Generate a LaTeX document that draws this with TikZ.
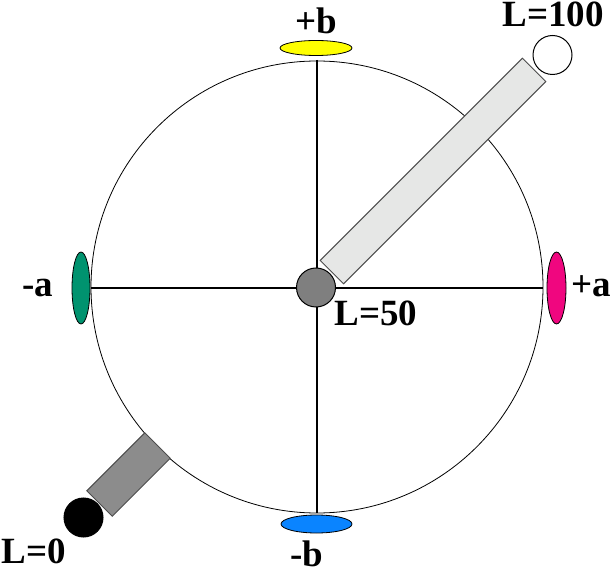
\documentclass[tikz,border=0pt]{standalone}
\usepackage{fontspec}
\setmainfont{Liberation Serif}
\usetikzlibrary{shapes.geometric}
\definecolor{cyel}{HTML}{FFFF00}
\definecolor{cblue}{HTML}{0A84FF}
\definecolor{cgreen}{HTML}{00936F}
\definecolor{cmag}{HTML}{F0067F}
\definecolor{lightbar}{HTML}{E6E7E6}
\definecolor{darkbar}{HTML}{8C8C8C}
\definecolor{midgray}{HTML}{7F7F7F}
\tikzset{
  lbl/.style={font=\fontsize{37}{40}\selectfont\bfseries, inner sep=0pt, anchor=base},
  pole/.style={ellipse, draw=black, line width=0.8pt, inner sep=0pt},
  axis/.style={line width=2pt, black},
  bar/.style={rectangle, draw=black!70, line width=1pt, inner sep=0pt, rotate=45},
  ball/.style={circle, draw=black, line width=1pt, inner sep=0pt, minimum size=39pt}
}
\begin{document}
\begin{tikzpicture}[x=1pt,y=-1pt]
\useasboundingbox (0,0) rectangle (613,569);
% sphere outline
\node[circle, draw=black, line width=0.8pt, minimum size=452pt, inner sep=0pt] (sph) at (317,287) {};
% axes
\coordinate (top) at (317,60);
\coordinate (bot) at (317,513);
\coordinate (lft) at (91,288);
\coordinate (rgt) at (543,288);
\draw[axis] (top) -- (bot);
\draw[axis] (lft) -- (rgt);
% poles
\node[pole, fill=cyel, minimum width=72pt, minimum height=15pt] (pb) at (316,48) {};
\node[pole, fill=cblue, minimum width=71pt, minimum height=18pt] (mb) at (316.5,524) {};
\node[pole, fill=cgreen, minimum width=18pt, minimum height=72pt] (ma) at (81,288) {};
\node[pole, fill=cmag, minimum width=19pt, minimum height=72pt] (pa) at (556.5,288) {};
% bars
\node[bar, fill=lightbar, minimum width=286pt, minimum height=33pt] (upbar) at (433,171) {};
\node[bar, fill=darkbar, minimum width=82pt, minimum height=36pt] (lowbar) at (128.5,474.5) {};
% balls
\node[ball, fill=midgray] (mid) at (316,287.5) {};
\node[ball, fill=white] (white) at (552.5,55) {};
\node[ball, fill=black] (blk) at (83.5,517.5) {};
% labels
\node[lbl] (lpb) at (316,34) {+b};
\node[lbl] (lmb) at (307,566) {-b};
\node[lbl] (lma) at (38,297) {-a};
\node[lbl] (lpa) at (591,297) {+a};
\node[lbl] (l100) at (553,27) {L=100};
\node[lbl] (l50) at (376,326) {L=50};
\node[lbl] (l0) at (34,563) {L=0};
\end{tikzpicture}
\end{document}
